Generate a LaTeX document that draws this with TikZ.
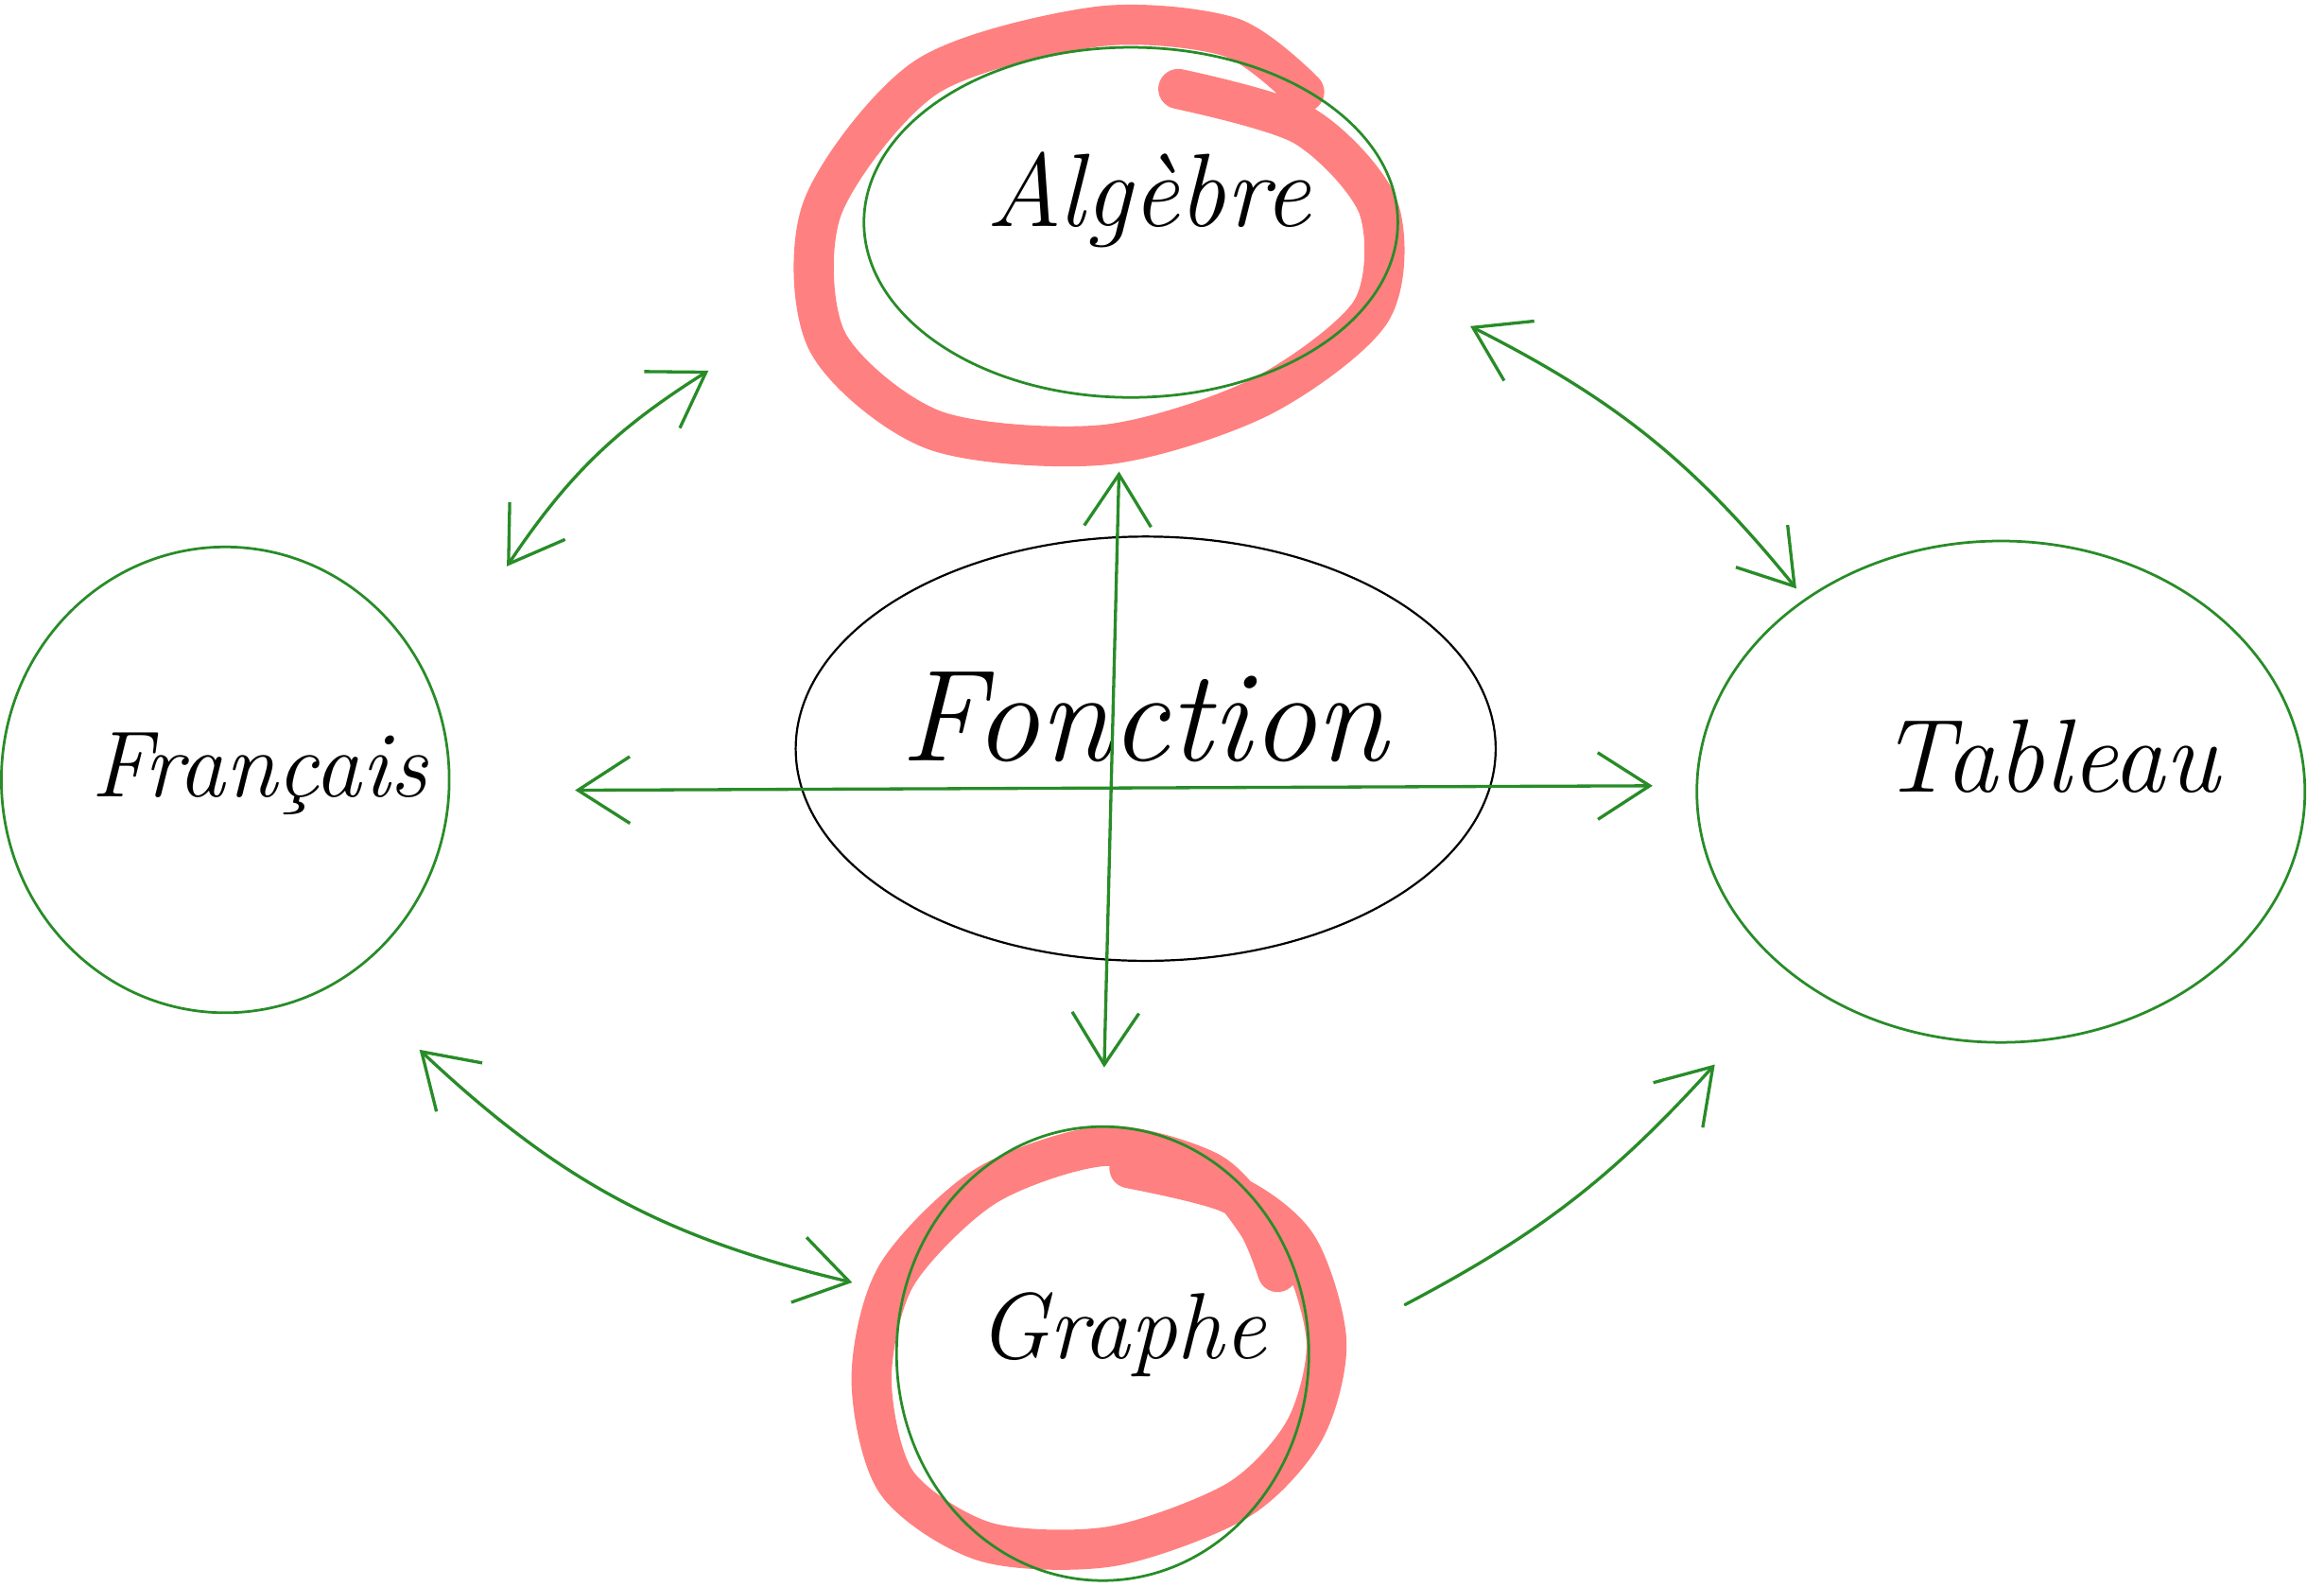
\documentclass[tikz,border=0pt]{standalone}
\usepackage{tikz}
\usetikzlibrary{arrows.meta,shapes.geometric,positioning}
\definecolor{pen}{RGB}{40,140,40}
\definecolor{hilite}{RGB}{255,128,128}

\begin{document}
\begin{tikzpicture}[x=0.01cm,y=-0.01cm,>={Straight Barb[length=3.5mm,width=4.5mm]},line cap=round,line join=round]
	\useasboundingbox (0,0) rectangle (1568,1070);
	\tikzset{every node/.style={ellipse,inner sep=0pt}}
	\tikzset{bubble/.style={draw=pen,line width=0.5pt}}
	\tikzset{word/.style={rectangle,font=\fontsize{20}{20}\selectfont\itshape}}
	\tikzset{link/.style={pen,line width=0.6pt}}
	\tikzset{ring/.style={hilite,line width=0.27cm}}
	% red rings first, the rest on top
	\draw[ring] plot[smooth] coordinates {(795,60) (880,85) (930,140) (925,210) (850,268) (745,300) (630,290) (558,230) (555,140) (625,52) (740,18) (830,25) (880,62)};
	\draw[ring] plot[smooth] coordinates {(762,788) (830,805) (875,840) (895,905) (880,965) (835,1012) (750,1043) (665,1040) (605,1000) (588,930) (605,860) (665,800) (745,773) (815,790) (848,825) (862,858)};
	\node[bubble,minimum width=3.6cm,minimum height=2.36cm] (alg) at (763,150) {};
	\node[draw=black,line width=0.4pt,minimum width=4.72cm,minimum height=2.86cm] (fonc) at (773,505) {};
	\node[bubble,minimum width=3.02cm,minimum height=3.14cm] (fra) at (152,526) {};
	\node[bubble,minimum width=4.1cm,minimum height=3.38cm] (tab) at (1350,534) {};
	\node[bubble,minimum width=2.78cm,minimum height=3.06cm] (gra) at (744,913) {};
	\node[word] (algt) at (775,135) {Algèbre};
	\node[word,font=\fontsize{25}{25}\selectfont\itshape] (fonct) at (772,484) {Fonction};
	\node[word,font=\fontsize{18}{18}\selectfont\itshape] (frat) at (175,522) {Français};
	\node[word] (tabt) at (1383,510) {Tableau};
	\node[word,font=\fontsize{18}{18}\selectfont\itshape] (grat) at (757,900) {Graphe};
	% arrows out of Fonction
	\coordinate (fu) at (755,318);
	\coordinate (fd) at (745,720);
	\coordinate (fl) at (388,533);
	\coordinate (fr) at (1115,530);
	\draw[link,<->] (fu) -- (fd);
	\draw[link,<->] (fl) -- (fr);
	% arrows round the outside
	\coordinate (fa1) at (342,382);
	\coordinate (fa2) at (478,250);
	\coordinate (at1) at (992,220);
	\coordinate (at2) at (1212,397);
	\coordinate (fg1) at (283,708);
	\coordinate (fg2) at (575,865);
	\coordinate (tg1) at (948,880);
	\coordinate (tg2) at (1157,718);
	\draw[link,<->] (fa1) to[bend left=12] (fa2);
	\draw[link,<->] (at1) to[bend left=12] (at2);
	\draw[link,<->] (fg1) to[bend right=15] (fg2);
	\draw[link,->] (tg1) to[bend right=10] (tg2);
\end{tikzpicture}
\end{document}
